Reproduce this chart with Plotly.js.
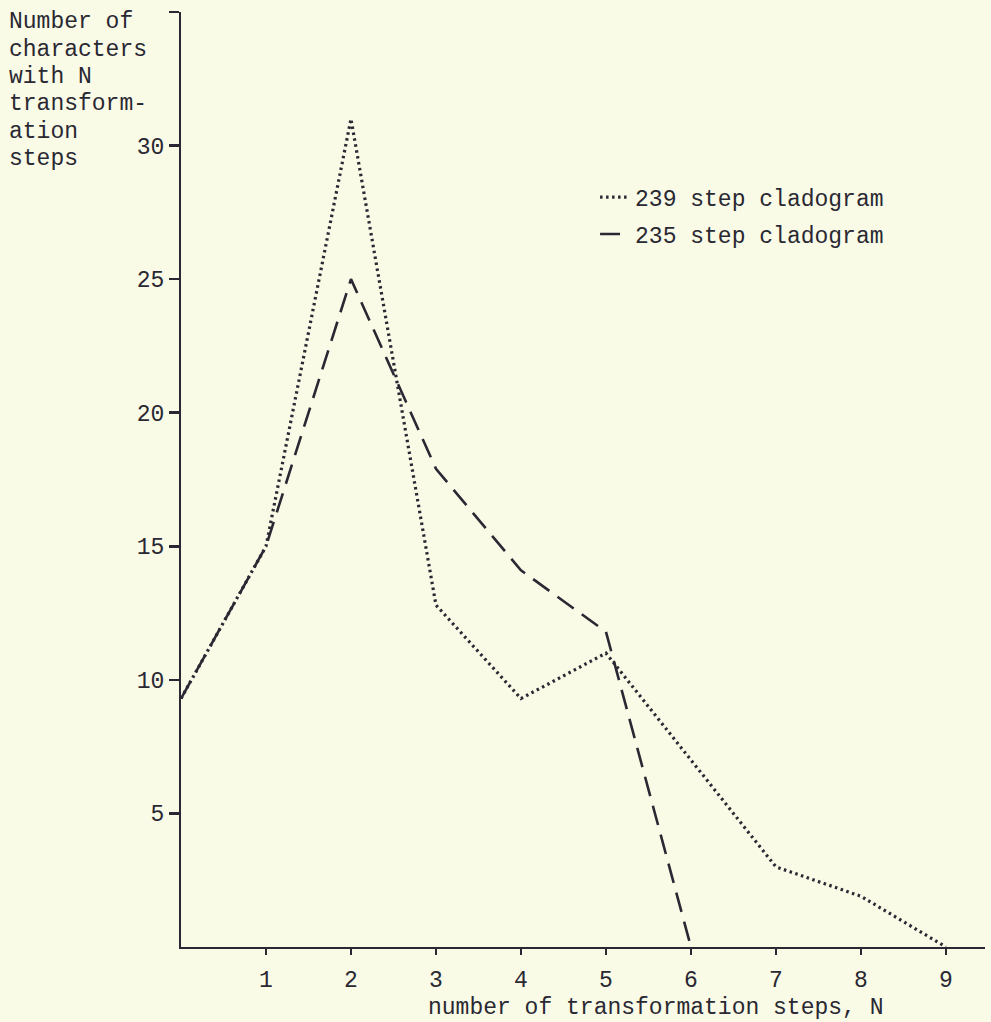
<!DOCTYPE html>
<html>
<head>
<meta charset="utf-8">
<script src="https://cdn.plot.ly/plotly-3.0.1.min.js"></script>
<style>
  html, body { margin: 0; padding: 0; background: #f9fbe7; }
  #chart { width: 991px; height: 1022px; }
</style>
</head>
<body>
<div id="chart"></div>
<script>
// Data
const steps = [0, 1, 2, 3, 4, 5, 6, 7, 8, 9];
const steps235 = [0, 1, 2, 3, 4, 5, 6];
const chars239 = [9.3, 15, 31, 12.8, 9.3, 11, 7, 3.0, 1.9, 0];
const chars235 = [9.3, 15, 25, 17.9, 14.1, 11.8, 0];
const xTickVals = [1, 2, 3, 4, 5, 6, 7, 8, 9];
const xTickText = ['1', '2', '3', '4', '5', '6', '7', '8', '9'];
const yTickVals = [5, 10, 15, 20, 25, 30, 35];
const yTickText = ['5', '10', '15', '20', '25', '30', ''];
const seriesNames = ['239 step cladogram', '235 step cladogram'];
const yTitleLines = ['Number of', 'characters', 'with N', 'transform-', 'ation', 'steps'];
const xTitle = 'number of transformation steps, N';

const ink = '#2a2832';
const fontFam = '"Liberation Mono", "Courier New", monospace';
const fs = 23;

const traces = [
  {
    x: steps, y: chars239, name: seriesNames[0], type: 'scatter', mode: 'lines',
    legendgroup: 'a',
    line: { color: ink, width: 3.2, dash: '2.5px,3.5px' }
  },
  {
    x: steps235, y: chars235, name: seriesNames[1], type: 'scatter', mode: 'lines',
    legendgroup: 'b',
    line: { color: ink, width: 2.6, dash: '20px,10px' }
  }
];

// y-title: one annotation per typed line, spaced like the typewriter lines
const plotTopPx = 12, plotH = 935, lineStep = 27.5, firstBaselinePx = 27;
const yTitleAnn = yTitleLines.map((t, i) => ({
  text: t, xref: 'paper', yref: 'paper',
  x: -0.217, y: 1 - (firstBaselinePx + i * lineStep - plotTopPx - 5) / plotH,
  xanchor: 'left', yanchor: 'middle', align: 'left',
  showarrow: false, font: { family: fontFam, size: fs, color: ink }
}));

const layout = {
  width: 991, height: 1022,
  margin: { l: 181, r: 6, t: 12, b: 75 },
  paper_bgcolor: '#f9fbe7',
  plot_bgcolor: '#f9fbe7',
  font: { family: fontFam, size: fs, color: ink },
  showlegend: true,
  legend: {
    x: 0.515, y: 0.825, xanchor: 'left', yanchor: 'top',
    bgcolor: 'rgba(0,0,0,0)', font: { family: fontFam, size: fs, color: ink },
    tracegroupgap: 4
  },
  xaxis: {
    range: [0, 9.46], showgrid: false, zeroline: false,
    showline: true, linecolor: ink, linewidth: 2,
    tickmode: 'array', tickvals: xTickVals, ticktext: xTickText,
    ticks: 'outside', ticklen: 6, tickwidth: 2, tickcolor: ink,
    ticklabelstandoff: 4,
    tickfont: { family: fontFam, size: fs, color: ink },
    fixedrange: true
  },
  xaxis2: {
    range: [0, 9.46], overlaying: 'x', anchor: 'y', side: 'bottom',
    showgrid: false, zeroline: false, showline: false,
    tickmode: 'array', tickvals: xTickVals, showticklabels: false,
    ticks: 'inside', ticklen: 6, tickwidth: 2, tickcolor: ink
  },
  yaxis: {
    range: [0, 35], showgrid: false, zeroline: false,
    showline: true, linecolor: ink, linewidth: 2,
    tickmode: 'array', tickvals: yTickVals, ticktext: yTickText,
    ticks: 'outside', ticklen: 10, tickwidth: 2.5, tickcolor: ink,
    tickfont: { family: fontFam, size: fs, color: ink },
    fixedrange: true
  },
  annotations: yTitleAnn.concat([
    {
      text: xTitle, xref: 'paper', yref: 'paper',
      x: 0.59, y: -0.065, xanchor: 'center', yanchor: 'middle',
      showarrow: false, font: { family: fontFam, size: fs, color: ink }
    }
  ])
};

Plotly.newPlot('chart', traces, layout, { staticPlot: true, displayModeBar: false });
</script>
</body>
</html>
